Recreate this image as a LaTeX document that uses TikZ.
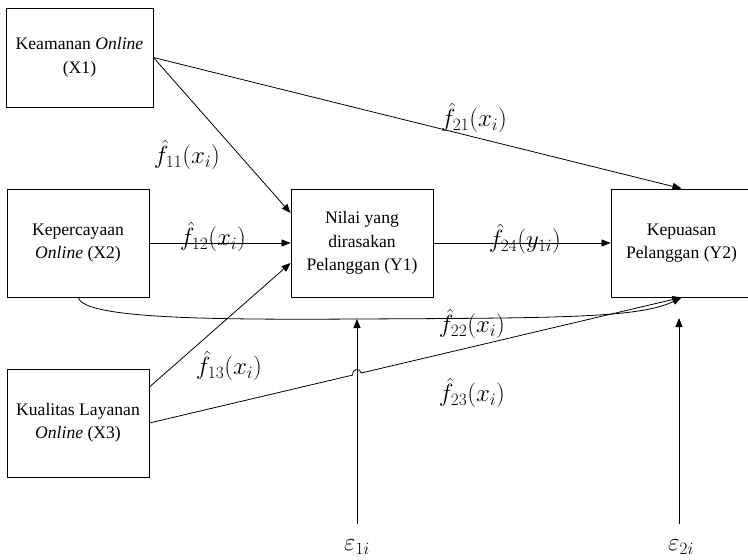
\documentclass[tikz,border=0pt]{standalone}
\usepackage{fontspec}
\setmainfont{Liberation Serif}
\usetikzlibrary{arrows.meta,calc}

\begin{document}
\begin{tikzpicture}[x=1pt,y=-1pt,
  box/.style={draw,line width=0.9pt,minimum width=#1,minimum height=108pt,
    inner sep=0pt,align=center,font=\fontsize{17.6}{23.5}\selectfont},
  link/.style={line width=0.8pt,-{Triangle[length=9pt,width=7pt]}},
  lbl/.style={font=\fontsize{23}{26}\selectfont,inner sep=0pt}]

% page
\fill[white] (0,0) rectangle (748,560);
\useasboundingbox (0,0) rectangle (748,560);

% variables
\node[box=147pt,minimum height=99pt] (X1) at (79.5,57.5) {Keamanan \textit{Online}\\(X1)};
\node[box=142pt] (X2) at (78,243) {Kepercayaan\\\textit{Online} (X2)};
\node[box=142pt] (X3) at (78,423) {Kualitas Layanan\\\textit{Online} (X3)};
\node[box=142pt] (Y1) at (362,243) {Nilai yang\\dirasakan\\Pelanggan (Y1)};
\node[box=141pt] (Y2) at (681.5,243) {Kepuasan\\Pelanggan (Y2)};

% error terms
\coordinate (e1) at (357,524);
\coordinate (e2) at (679,524);
\coordinate (m22) at (357,319);
\coordinate (e2t) at (679,318);

% paths
\draw[link] (X1.east) -- ([yshift=30pt]Y1.west);
\draw[link] (X1.east) -- (Y2.north);
\draw[link] (X2.east) -- (Y1.west);
\draw[link] ([yshift=36pt]X3.east) -- ([yshift=-20pt]Y1.west);
\draw[link] (Y1.east) -- (Y2.west);
\draw[link] (X2.south) .. controls (84,318) and (200,320) .. (m22)
  .. controls (560,318) and (640,318) .. (Y2.south);

% X3 -> Y2 with a hop over the error line
\path (intersection of X3.east--Y2.south and e1--m22) coordinate (hop);
\coordinate (hp1) at ($(hop)!4.5pt!(X3.east)$);
\coordinate (hp2) at ($(hop)!4.5pt!(Y2.south)$);
\draw[link] (X3.east) -- (hp1)
  .. controls ($(hp1)!6pt!90:(hop)$) and ($(hp2)!6pt!-90:(hop)$) .. (hp2)
  -- (Y2.south);

\draw[link] (e1) -- (m22);
\draw[link] (e2) -- (e2t);

% labels
\node[lbl] (f11) at (187,155) {$\hat{f}_{11}(x_i)$};
\node[lbl] (f21) at (474,118) {$\hat{f}_{21}(x_i)$};
\node[lbl] (f12) at (213,237) {$\hat{f}_{12}(x_i)$};
\node[lbl] (f24) at (525,239) {$\hat{f}_{24}(y_{1i})$};
\node[lbl] (f13) at (229,366) {$\hat{f}_{13}(x_i)$};
\node[lbl] (f22) at (472,324) {$\hat{f}_{22}(x_i)$};
\node[lbl] (f23) at (472,393) {$\hat{f}_{23}(x_i)$};
\node[lbl] (eps1) at (357,547) {$\varepsilon_{1i}$};
\node[lbl] (eps2) at (681,547) {$\varepsilon_{2i}$};
\end{tikzpicture}
\end{document}
